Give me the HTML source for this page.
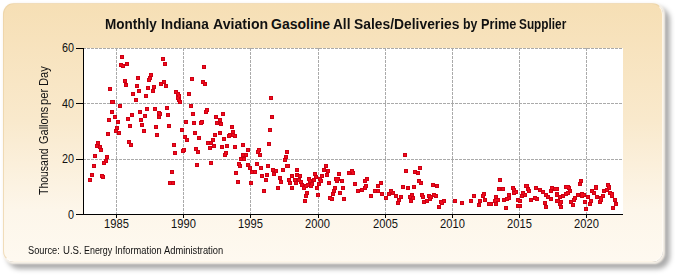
<!DOCTYPE html>
<html><head><meta charset="utf-8">
<style>
html,body{margin:0;padding:0;background:#fff;width:675px;height:275px;overflow:hidden;font-family:"Liberation Sans",sans-serif;}
#shadow{position:absolute;left:7px;top:7px;width:663px;height:262px;border-radius:13px;background:rgba(0,0,0,0.33);filter:blur(2.6px);}
#panel{position:absolute;left:3px;top:3px;width:658px;height:257px;border-radius:11px;border:1.5px solid;border-color:rgba(236,210,165,0.7) rgba(255,253,248,0.75) rgba(255,253,248,0.75) rgba(236,210,165,0.7);
background:linear-gradient(to bottom,#f6dfb5 0%,#f9e9cc 45%,#fdf6ea 80%,#fef9f0 100%);
box-shadow:1px 1px 2px 0.5px rgba(252,246,236,0.95);}
.tx{position:absolute;white-space:nowrap;color:#111;transform-origin:0 0;line-height:1;}
#title{position:absolute;left:0;top:17px;width:675px;height:20px;}
.tw{position:absolute;top:0;font-weight:bold;font-size:14px;line-height:1;color:#111;white-space:nowrap;transform-origin:0 0;}
#ylab{position:absolute;left:0;top:200px;width:150px;height:14px;transform:rotate(-90deg);transform-origin:0 0;}
.yw{position:absolute;top:37.6px;font-size:12px;line-height:1;color:#111;white-space:nowrap;transform-origin:0 0;}
#src{position:absolute;left:0;top:246px;width:675px;height:14px;}
.sw{position:absolute;top:0;font-size:10px;line-height:1;color:#111;white-space:nowrap;transform-origin:0 0;}
svg{position:absolute;left:0;top:0;}
.t{font-size:12px;fill:#111;}
</style></head><body>
<div id="shadow"></div><div id="panel"></div>
<div id="title"><span class="tw" style="left:105.03px;transform:scaleX(0.966)">Monthly</span><span class="tw" style="left:161.43px;transform:scaleX(0.975)">Indiana</span><span class="tw" style="left:213.2px;transform:scaleX(1.0074)">Aviation</span><span class="tw" style="left:271.0px;transform:scaleX(1.0)">Gasoline</span><span class="tw" style="left:333.2px;transform:scaleX(0.9765)">All</span><span class="tw" style="left:353.61px;transform:scaleX(0.9895)">Sales/Deliveries</span><span class="tw" style="left:463.12px;transform:scaleX(0.88)">by</span><span class="tw" style="left:481.09px;transform:scaleX(0.9081)">Prime</span><span class="tw" style="left:519.16px;transform:scaleX(0.8436)">Supplier</span></div>
<div id="ylab"><span class="yw" style="left:5.0px;transform:scaleX(0.8717)">Thousand</span><span class="yw" style="left:55.58px;transform:scaleX(0.9154)">Gallons</span><span class="yw" style="left:95.46px;transform:scaleX(0.9437)">per</span><span class="yw" style="left:114.46px;transform:scaleX(0.935)">Day</span></div>
<div id="src"><span class="sw" style="left:28.48px;transform:scaleX(0.9212)">Source:</span><span class="sw" style="left:62.94px;transform:scaleX(0.9611)">U.S.</span><span class="sw" style="left:83.71px;transform:scaleX(0.8903)">Energy</span><span class="sw" style="left:114.87px;transform:scaleX(0.9306)">Information</span><span class="sw" style="left:164.2px;transform:scaleX(0.9333)">Administration</span></div>
<svg width="675" height="275" viewBox="0 0 675 275">
<rect x="84" y="48" width="539" height="166" fill="#fff"/>
<g stroke="#aaaaaa" stroke-width="1" stroke-dasharray="3,1" fill="none">
<path stroke-dashoffset="1" d="M84 48.5H623M84 103.5H623M84 159.5H623"/>
<path d="M116.5 48V214M183.5 48V214M250.5 48V214M318.5 48V214M385.5 48V214M452.5 48V214M519.5 48V214M586.5 48V214"/>
</g>
<g stroke="#000" stroke-width="1" fill="none">
<path d="M83.5 48V214.5"/>
<path d="M76 214.5H623"/>
<path d="M76 48.5H84M76 103.5H84M76 159.5H84"/>
<path d="M116.5 214V218M183.5 214V218M250.5 214V218M318.5 214V218M385.5 214V218M452.5 214V218M519.5 214V218M586.5 214V218"/>
</g>
<g class="t" text-anchor="end">
<text transform="translate(74,52.3) scale(0.9,1)">60</text>
<text transform="translate(74,108.1) scale(0.9,1)">40</text>
<text transform="translate(74,163.3) scale(0.9,1)">20</text>
<text transform="translate(74,219.3) scale(0.9,1)">0</text>
</g>
<g class="t" text-anchor="middle">
<text transform="translate(116.5,228) scale(0.93,1)">1985</text>
<text transform="translate(183.5,228) scale(0.93,1)">1990</text>
<text transform="translate(250.5,228) scale(0.93,1)">1995</text>
<text transform="translate(317.5,228) scale(0.93,1)">2000</text>
<text transform="translate(385.5,228) scale(0.93,1)">2005</text>
<text transform="translate(452.5,228) scale(0.93,1)">2010</text>
<text transform="translate(519.5,228) scale(0.93,1)">2015</text>
<text transform="translate(586.5,228) scale(0.93,1)">2020</text>
</g>
<g id="pts">
<g fill="#cc0012">
<rect x="120" y="55" width="4" height="4"/>
<rect x="119" y="63" width="4" height="4"/>
<rect x="121" y="64" width="4" height="4"/>
<rect x="125" y="62" width="4" height="4"/>
<rect x="123" y="79" width="4" height="4"/>
<rect x="124" y="83" width="4" height="4"/>
<rect x="108" y="87" width="4" height="4"/>
<rect x="111" y="100" width="4" height="4"/>
<rect x="136" y="76" width="4" height="4"/>
<rect x="135" y="84" width="4" height="4"/>
<rect x="137" y="89" width="4" height="4"/>
<rect x="131" y="92" width="4" height="4"/>
<rect x="134" y="98" width="4" height="4"/>
<rect x="149" y="73" width="4" height="4"/>
<rect x="148" y="76" width="4" height="4"/>
<rect x="147" y="78" width="4" height="4"/>
<rect x="146" y="86" width="4" height="4"/>
<rect x="152" y="85" width="4" height="4"/>
<rect x="151" y="89" width="4" height="4"/>
<rect x="144" y="94" width="4" height="4"/>
<rect x="161" y="57" width="4" height="4"/>
<rect x="163" y="62" width="4" height="4"/>
<rect x="159" y="82" width="4" height="4"/>
<rect x="162" y="80" width="4" height="4"/>
<rect x="164" y="84" width="4" height="4"/>
<rect x="174" y="90" width="4" height="4"/>
<rect x="176" y="92" width="4" height="4"/>
<rect x="177" y="94" width="4" height="4"/>
<rect x="178" y="100" width="4" height="4"/>
<rect x="176" y="96" width="4" height="4"/>
<rect x="177" y="98" width="4" height="4"/>
<rect x="190" y="77" width="4" height="4"/>
<rect x="187" y="92" width="4" height="4"/>
<rect x="202" y="65" width="4" height="4"/>
<rect x="201" y="80" width="4" height="4"/>
<rect x="203" y="82" width="4" height="4"/>
<rect x="269" y="96" width="4" height="4"/>
<rect x="118" y="104" width="4" height="4"/>
<rect x="110" y="110" width="4" height="4"/>
<rect x="113" y="115" width="4" height="4"/>
<rect x="107" y="118" width="4" height="4"/>
<rect x="116" y="120" width="4" height="4"/>
<rect x="115" y="126" width="4" height="4"/>
<rect x="114" y="129" width="4" height="4"/>
<rect x="117" y="131" width="4" height="4"/>
<rect x="106" y="132" width="4" height="4"/>
<rect x="96" y="141" width="4" height="4"/>
<rect x="95" y="144" width="4" height="4"/>
<rect x="98" y="145" width="4" height="4"/>
<rect x="99" y="148" width="4" height="4"/>
<rect x="93" y="154" width="4" height="4"/>
<rect x="105" y="155" width="4" height="4"/>
<rect x="130" y="113" width="4" height="4"/>
<rect x="126" y="117" width="4" height="4"/>
<rect x="128" y="124" width="4" height="4"/>
<rect x="127" y="140" width="4" height="4"/>
<rect x="129" y="143" width="4" height="4"/>
<rect x="138" y="110" width="4" height="4"/>
<rect x="145" y="107" width="4" height="4"/>
<rect x="143" y="114" width="4" height="4"/>
<rect x="139" y="118" width="4" height="4"/>
<rect x="140" y="123" width="4" height="4"/>
<rect x="142" y="129" width="4" height="4"/>
<rect x="153" y="107" width="4" height="4"/>
<rect x="157" y="111" width="4" height="4"/>
<rect x="157" y="115" width="4" height="4"/>
<rect x="158" y="112" width="4" height="4"/>
<rect x="165" y="106" width="4" height="4"/>
<rect x="166" y="113" width="4" height="4"/>
<rect x="154" y="125" width="4" height="4"/>
<rect x="155" y="133" width="4" height="4"/>
<rect x="167" y="124" width="4" height="4"/>
<rect x="172" y="143" width="4" height="4"/>
<rect x="173" y="151" width="4" height="4"/>
<rect x="189" y="104" width="4" height="4"/>
<rect x="191" y="112" width="4" height="4"/>
<rect x="204" y="110" width="4" height="4"/>
<rect x="205" y="108" width="4" height="4"/>
<rect x="184" y="120" width="4" height="4"/>
<rect x="192" y="121" width="4" height="4"/>
<rect x="199" y="121" width="4" height="4"/>
<rect x="200" y="120" width="4" height="4"/>
<rect x="180" y="128" width="4" height="4"/>
<rect x="193" y="131" width="4" height="4"/>
<rect x="183" y="135" width="4" height="4"/>
<rect x="185" y="138" width="4" height="4"/>
<rect x="197" y="136" width="4" height="4"/>
<rect x="182" y="148" width="4" height="4"/>
<rect x="181" y="149" width="4" height="4"/>
<rect x="194" y="147" width="4" height="4"/>
<rect x="196" y="150" width="4" height="4"/>
<rect x="214" y="115" width="4" height="4"/>
<rect x="215" y="121" width="4" height="4"/>
<rect x="213" y="133" width="4" height="4"/>
<rect x="211" y="138" width="4" height="4"/>
<rect x="206" y="141" width="4" height="4"/>
<rect x="209" y="141" width="4" height="4"/>
<rect x="212" y="144" width="4" height="4"/>
<rect x="208" y="146" width="4" height="4"/>
<rect x="110" y="100" width="4" height="4"/>
<rect x="110" y="110" width="4" height="4"/>
<rect x="221" y="112" width="4" height="4"/>
<rect x="218" y="118" width="4" height="4"/>
<rect x="219" y="122" width="4" height="4"/>
<rect x="218" y="131" width="4" height="4"/>
<rect x="230" y="125" width="4" height="4"/>
<rect x="231" y="130" width="4" height="4"/>
<rect x="228" y="133" width="4" height="4"/>
<rect x="231" y="133" width="4" height="4"/>
<rect x="222" y="137" width="4" height="4"/>
<rect x="220" y="145" width="4" height="4"/>
<rect x="225" y="144" width="4" height="4"/>
<rect x="233" y="145" width="4" height="4"/>
<rect x="224" y="151" width="4" height="4"/>
<rect x="223" y="153" width="4" height="4"/>
<rect x="241" y="143" width="4" height="4"/>
<rect x="246" y="148" width="4" height="4"/>
<rect x="241" y="153" width="4" height="4"/>
<rect x="244" y="153" width="4" height="4"/>
<rect x="270" y="115" width="4" height="4"/>
<rect x="268" y="128" width="4" height="4"/>
<rect x="267" y="142" width="4" height="4"/>
<rect x="257" y="148" width="4" height="4"/>
<rect x="256" y="150" width="4" height="4"/>
<rect x="258" y="153" width="4" height="4"/>
<rect x="285" y="150" width="4" height="4"/>
<rect x="284" y="155" width="4" height="4"/>
<rect x="403" y="153" width="4" height="4"/>
<rect x="227" y="134" width="4" height="4"/>
<rect x="233" y="134" width="4" height="4"/>
<rect x="92" y="164" width="4" height="4"/>
<rect x="90" y="173" width="4" height="4"/>
<rect x="88" y="178" width="4" height="4"/>
<rect x="100" y="174" width="4" height="4"/>
<rect x="101" y="175" width="4" height="4"/>
<rect x="102" y="161" width="4" height="4"/>
<rect x="104" y="159" width="4" height="4"/>
<rect x="170" y="170" width="4" height="4"/>
<rect x="168" y="181" width="4" height="4"/>
<rect x="171" y="181" width="4" height="4"/>
<rect x="195" y="163" width="4" height="4"/>
<rect x="209" y="161" width="4" height="4"/>
<rect x="92" y="164" width="4" height="4"/>
<rect x="239" y="157" width="4" height="4"/>
<rect x="242" y="157" width="4" height="4"/>
<rect x="237" y="162" width="4" height="4"/>
<rect x="238" y="164" width="4" height="4"/>
<rect x="234" y="171" width="4" height="4"/>
<rect x="236" y="180" width="4" height="4"/>
<rect x="246" y="163" width="4" height="4"/>
<rect x="248" y="166" width="4" height="4"/>
<rect x="250" y="170" width="4" height="4"/>
<rect x="253" y="170" width="4" height="4"/>
<rect x="249" y="181" width="4" height="4"/>
<rect x="255" y="162" width="4" height="4"/>
<rect x="259" y="166" width="4" height="4"/>
<rect x="266" y="164" width="4" height="4"/>
<rect x="260" y="174" width="4" height="4"/>
<rect x="265" y="173" width="4" height="4"/>
<rect x="264" y="178" width="4" height="4"/>
<rect x="271" y="168" width="4" height="4"/>
<rect x="274" y="169" width="4" height="4"/>
<rect x="272" y="172" width="4" height="4"/>
<rect x="281" y="168" width="4" height="4"/>
<rect x="278" y="176" width="4" height="4"/>
<rect x="279" y="180" width="4" height="4"/>
<rect x="276" y="186" width="4" height="4"/>
<rect x="283" y="158" width="4" height="4"/>
<rect x="285" y="164" width="4" height="4"/>
<rect x="262" y="189" width="4" height="4"/>
<rect x="286" y="164" width="4" height="4"/>
<rect x="295" y="168" width="4" height="4"/>
<rect x="290" y="174" width="4" height="4"/>
<rect x="287" y="178" width="4" height="4"/>
<rect x="288" y="181" width="4" height="4"/>
<rect x="295" y="173" width="4" height="4"/>
<rect x="298" y="174" width="4" height="4"/>
<rect x="293" y="178" width="4" height="4"/>
<rect x="294" y="181" width="4" height="4"/>
<rect x="297" y="178" width="4" height="4"/>
<rect x="299" y="180" width="4" height="4"/>
<rect x="300" y="183" width="4" height="4"/>
<rect x="307" y="177" width="4" height="4"/>
<rect x="308" y="179" width="4" height="4"/>
<rect x="306" y="183" width="4" height="4"/>
<rect x="310" y="182" width="4" height="4"/>
<rect x="313" y="172" width="4" height="4"/>
<rect x="314" y="175" width="4" height="4"/>
<rect x="312" y="178" width="4" height="4"/>
<rect x="318" y="177" width="4" height="4"/>
<rect x="319" y="179" width="4" height="4"/>
<rect x="317" y="182" width="4" height="4"/>
<rect x="320" y="174" width="4" height="4"/>
<rect x="324" y="164" width="4" height="4"/>
<rect x="322" y="168" width="4" height="4"/>
<rect x="326" y="169" width="4" height="4"/>
<rect x="325" y="173" width="4" height="4"/>
<rect x="327" y="181" width="4" height="4"/>
<rect x="337" y="172" width="4" height="4"/>
<rect x="334" y="177" width="4" height="4"/>
<rect x="336" y="177" width="4" height="4"/>
<rect x="340" y="179" width="4" height="4"/>
<rect x="335" y="179" width="4" height="4"/>
<rect x="347" y="171" width="4" height="4"/>
<rect x="350" y="169" width="4" height="4"/>
<rect x="353" y="182" width="4" height="4"/>
<rect x="351" y="171" width="4" height="4"/>
<rect x="290" y="186" width="4" height="4"/>
<rect x="302" y="186" width="4" height="4"/>
<rect x="304" y="184" width="4" height="4"/>
<rect x="309" y="184" width="4" height="4"/>
<rect x="315" y="186" width="4" height="4"/>
<rect x="305" y="191" width="4" height="4"/>
<rect x="304" y="194" width="4" height="4"/>
<rect x="303" y="199" width="4" height="4"/>
<rect x="316" y="193" width="4" height="4"/>
<rect x="333" y="186" width="4" height="4"/>
<rect x="332" y="189" width="4" height="4"/>
<rect x="331" y="192" width="4" height="4"/>
<rect x="328" y="196" width="4" height="4"/>
<rect x="330" y="197" width="4" height="4"/>
<rect x="341" y="186" width="4" height="4"/>
<rect x="338" y="191" width="4" height="4"/>
<rect x="342" y="197" width="4" height="4"/>
<rect x="365" y="177" width="4" height="4"/>
<rect x="363" y="179" width="4" height="4"/>
<rect x="379" y="181" width="4" height="4"/>
<rect x="376" y="184" width="4" height="4"/>
<rect x="404" y="169" width="4" height="4"/>
<rect x="413" y="170" width="4" height="4"/>
<rect x="416" y="171" width="4" height="4"/>
<rect x="418" y="166" width="4" height="4"/>
<rect x="417" y="179" width="4" height="4"/>
<rect x="419" y="181" width="4" height="4"/>
<rect x="356" y="189" width="4" height="4"/>
<rect x="360" y="188" width="4" height="4"/>
<rect x="363" y="186" width="4" height="4"/>
<rect x="364" y="184" width="4" height="4"/>
<rect x="369" y="194" width="4" height="4"/>
<rect x="373" y="189" width="4" height="4"/>
<rect x="376" y="189" width="4" height="4"/>
<rect x="376" y="184" width="4" height="4"/>
<rect x="380" y="192" width="4" height="4"/>
<rect x="384" y="196" width="4" height="4"/>
<rect x="387" y="192" width="4" height="4"/>
<rect x="389" y="189" width="4" height="4"/>
<rect x="391" y="191" width="4" height="4"/>
<rect x="394" y="194" width="4" height="4"/>
<rect x="399" y="195" width="4" height="4"/>
<rect x="397" y="198" width="4" height="4"/>
<rect x="396" y="201" width="4" height="4"/>
<rect x="401" y="185" width="4" height="4"/>
<rect x="406" y="186" width="4" height="4"/>
<rect x="412" y="185" width="4" height="4"/>
<rect x="410" y="193" width="4" height="4"/>
<rect x="408" y="195" width="4" height="4"/>
<rect x="411" y="196" width="4" height="4"/>
<rect x="409" y="199" width="4" height="4"/>
<rect x="420" y="193" width="4" height="4"/>
<rect x="431" y="183" width="4" height="4"/>
<rect x="435" y="184" width="4" height="4"/>
<rect x="421" y="195" width="4" height="4"/>
<rect x="422" y="200" width="4" height="4"/>
<rect x="425" y="199" width="4" height="4"/>
<rect x="427" y="194" width="4" height="4"/>
<rect x="428" y="197" width="4" height="4"/>
<rect x="429" y="195" width="4" height="4"/>
<rect x="432" y="193" width="4" height="4"/>
<rect x="434" y="194" width="4" height="4"/>
<rect x="439" y="200" width="4" height="4"/>
<rect x="442" y="199" width="4" height="4"/>
<rect x="440" y="201" width="4" height="4"/>
<rect x="437" y="205" width="4" height="4"/>
<rect x="453" y="199" width="4" height="4"/>
<rect x="460" y="201" width="4" height="4"/>
<rect x="469" y="199" width="4" height="4"/>
<rect x="472" y="194" width="4" height="4"/>
<rect x="478" y="199" width="4" height="4"/>
<rect x="477" y="203" width="4" height="4"/>
<rect x="481" y="194" width="4" height="4"/>
<rect x="482" y="192" width="4" height="4"/>
<rect x="483" y="198" width="4" height="4"/>
<rect x="487" y="202" width="4" height="4"/>
<rect x="498" y="178" width="4" height="4"/>
<rect x="525" y="184" width="4" height="4"/>
<rect x="497" y="187" width="4" height="4"/>
<rect x="501" y="187" width="4" height="4"/>
<rect x="512" y="191" width="4" height="4"/>
<rect x="494" y="198" width="4" height="4"/>
<rect x="518" y="204" width="4" height="4"/>
<rect x="511" y="186" width="4" height="4"/>
<rect x="512" y="188" width="4" height="4"/>
<rect x="514" y="190" width="4" height="4"/>
<rect x="524" y="184" width="4" height="4"/>
<rect x="526" y="187" width="4" height="4"/>
<rect x="527" y="189" width="4" height="4"/>
<rect x="534" y="186" width="4" height="4"/>
<rect x="538" y="188" width="4" height="4"/>
<rect x="541" y="190" width="4" height="4"/>
<rect x="550" y="186" width="4" height="4"/>
<rect x="553" y="187" width="4" height="4"/>
<rect x="549" y="189" width="4" height="4"/>
<rect x="555" y="192" width="4" height="4"/>
<rect x="494" y="195" width="4" height="4"/>
<rect x="496" y="198" width="4" height="4"/>
<rect x="493" y="199" width="4" height="4"/>
<rect x="489" y="202" width="4" height="4"/>
<rect x="494" y="202" width="4" height="4"/>
<rect x="507" y="193" width="4" height="4"/>
<rect x="507" y="196" width="4" height="4"/>
<rect x="502" y="198" width="4" height="4"/>
<rect x="505" y="197" width="4" height="4"/>
<rect x="504" y="206" width="4" height="4"/>
<rect x="516" y="198" width="4" height="4"/>
<rect x="518" y="199" width="4" height="4"/>
<rect x="516" y="204" width="4" height="4"/>
<rect x="521" y="191" width="4" height="4"/>
<rect x="523" y="193" width="4" height="4"/>
<rect x="520" y="194" width="4" height="4"/>
<rect x="529" y="198" width="4" height="4"/>
<rect x="533" y="196" width="4" height="4"/>
<rect x="535" y="197" width="4" height="4"/>
<rect x="544" y="193" width="4" height="4"/>
<rect x="546" y="195" width="4" height="4"/>
<rect x="549" y="197" width="4" height="4"/>
<rect x="543" y="201" width="4" height="4"/>
<rect x="544" y="205" width="4" height="4"/>
<rect x="555" y="199" width="4" height="4"/>
<rect x="579" y="179" width="4" height="4"/>
<rect x="578" y="182" width="4" height="4"/>
<rect x="564" y="185" width="4" height="4"/>
<rect x="566" y="185" width="4" height="4"/>
<rect x="594" y="185" width="4" height="4"/>
<rect x="606" y="183" width="4" height="4"/>
<rect x="607" y="185" width="4" height="4"/>
<rect x="555" y="187" width="4" height="4"/>
<rect x="555" y="193" width="4" height="4"/>
<rect x="558" y="195" width="4" height="4"/>
<rect x="556" y="199" width="4" height="4"/>
<rect x="559" y="200" width="4" height="4"/>
<rect x="558" y="202" width="4" height="4"/>
<rect x="559" y="205" width="4" height="4"/>
<rect x="561" y="194" width="4" height="4"/>
<rect x="564" y="192" width="4" height="4"/>
<rect x="566" y="191" width="4" height="4"/>
<rect x="568" y="189" width="4" height="4"/>
<rect x="567" y="186" width="4" height="4"/>
<rect x="564" y="185" width="4" height="4"/>
<rect x="569" y="200" width="4" height="4"/>
<rect x="571" y="203" width="4" height="4"/>
<rect x="572" y="198" width="4" height="4"/>
<rect x="573" y="196" width="4" height="4"/>
<rect x="576" y="193" width="4" height="4"/>
<rect x="580" y="192" width="4" height="4"/>
<rect x="582" y="193" width="4" height="4"/>
<rect x="580" y="194" width="4" height="4"/>
<rect x="583" y="200" width="4" height="4"/>
<rect x="584" y="207" width="4" height="4"/>
<rect x="586" y="195" width="4" height="4"/>
<rect x="589" y="199" width="4" height="4"/>
<rect x="588" y="202" width="4" height="4"/>
<rect x="590" y="189" width="4" height="4"/>
<rect x="592" y="191" width="4" height="4"/>
<rect x="594" y="186" width="4" height="4"/>
<rect x="595" y="195" width="4" height="4"/>
<rect x="598" y="200" width="4" height="4"/>
<rect x="599" y="196" width="4" height="4"/>
<rect x="601" y="194" width="4" height="4"/>
<rect x="602" y="189" width="4" height="4"/>
<rect x="605" y="188" width="4" height="4"/>
<rect x="607" y="186" width="4" height="4"/>
<rect x="608" y="191" width="4" height="4"/>
<rect x="610" y="194" width="4" height="4"/>
<rect x="610" y="192" width="4" height="4"/>
<rect x="613" y="198" width="4" height="4"/>
<rect x="614" y="202" width="4" height="4"/>
<rect x="599" y="198" width="4" height="4"/>
<rect x="611" y="206" width="4" height="4"/>
</g><g fill="#f20a1c">
<rect x="121" y="56" width="2" height="2"/>
<rect x="120" y="64" width="2" height="2"/>
<rect x="122" y="65" width="2" height="2"/>
<rect x="126" y="63" width="2" height="2"/>
<rect x="124" y="80" width="2" height="2"/>
<rect x="125" y="84" width="2" height="2"/>
<rect x="109" y="88" width="2" height="2"/>
<rect x="112" y="101" width="2" height="2"/>
<rect x="137" y="77" width="2" height="2"/>
<rect x="136" y="85" width="2" height="2"/>
<rect x="138" y="90" width="2" height="2"/>
<rect x="132" y="93" width="2" height="2"/>
<rect x="135" y="99" width="2" height="2"/>
<rect x="150" y="74" width="2" height="2"/>
<rect x="149" y="77" width="2" height="2"/>
<rect x="148" y="79" width="2" height="2"/>
<rect x="147" y="87" width="2" height="2"/>
<rect x="153" y="86" width="2" height="2"/>
<rect x="152" y="90" width="2" height="2"/>
<rect x="145" y="95" width="2" height="2"/>
<rect x="162" y="58" width="2" height="2"/>
<rect x="164" y="63" width="2" height="2"/>
<rect x="160" y="83" width="2" height="2"/>
<rect x="163" y="81" width="2" height="2"/>
<rect x="165" y="85" width="2" height="2"/>
<rect x="175" y="91" width="2" height="2"/>
<rect x="177" y="93" width="2" height="2"/>
<rect x="178" y="95" width="2" height="2"/>
<rect x="179" y="101" width="2" height="2"/>
<rect x="177" y="97" width="2" height="2"/>
<rect x="178" y="99" width="2" height="2"/>
<rect x="191" y="78" width="2" height="2"/>
<rect x="188" y="93" width="2" height="2"/>
<rect x="203" y="66" width="2" height="2"/>
<rect x="202" y="81" width="2" height="2"/>
<rect x="204" y="83" width="2" height="2"/>
<rect x="270" y="97" width="2" height="2"/>
<rect x="119" y="105" width="2" height="2"/>
<rect x="111" y="111" width="2" height="2"/>
<rect x="114" y="116" width="2" height="2"/>
<rect x="108" y="119" width="2" height="2"/>
<rect x="117" y="121" width="2" height="2"/>
<rect x="116" y="127" width="2" height="2"/>
<rect x="115" y="130" width="2" height="2"/>
<rect x="118" y="132" width="2" height="2"/>
<rect x="107" y="133" width="2" height="2"/>
<rect x="97" y="142" width="2" height="2"/>
<rect x="96" y="145" width="2" height="2"/>
<rect x="99" y="146" width="2" height="2"/>
<rect x="100" y="149" width="2" height="2"/>
<rect x="94" y="155" width="2" height="2"/>
<rect x="106" y="156" width="2" height="2"/>
<rect x="131" y="114" width="2" height="2"/>
<rect x="127" y="118" width="2" height="2"/>
<rect x="129" y="125" width="2" height="2"/>
<rect x="128" y="141" width="2" height="2"/>
<rect x="130" y="144" width="2" height="2"/>
<rect x="139" y="111" width="2" height="2"/>
<rect x="146" y="108" width="2" height="2"/>
<rect x="144" y="115" width="2" height="2"/>
<rect x="140" y="119" width="2" height="2"/>
<rect x="141" y="124" width="2" height="2"/>
<rect x="143" y="130" width="2" height="2"/>
<rect x="154" y="108" width="2" height="2"/>
<rect x="158" y="112" width="2" height="2"/>
<rect x="158" y="116" width="2" height="2"/>
<rect x="159" y="113" width="2" height="2"/>
<rect x="166" y="107" width="2" height="2"/>
<rect x="167" y="114" width="2" height="2"/>
<rect x="155" y="126" width="2" height="2"/>
<rect x="156" y="134" width="2" height="2"/>
<rect x="168" y="125" width="2" height="2"/>
<rect x="173" y="144" width="2" height="2"/>
<rect x="174" y="152" width="2" height="2"/>
<rect x="190" y="105" width="2" height="2"/>
<rect x="192" y="113" width="2" height="2"/>
<rect x="205" y="111" width="2" height="2"/>
<rect x="206" y="109" width="2" height="2"/>
<rect x="185" y="121" width="2" height="2"/>
<rect x="193" y="122" width="2" height="2"/>
<rect x="200" y="122" width="2" height="2"/>
<rect x="201" y="121" width="2" height="2"/>
<rect x="181" y="129" width="2" height="2"/>
<rect x="194" y="132" width="2" height="2"/>
<rect x="184" y="136" width="2" height="2"/>
<rect x="186" y="139" width="2" height="2"/>
<rect x="198" y="137" width="2" height="2"/>
<rect x="183" y="149" width="2" height="2"/>
<rect x="182" y="150" width="2" height="2"/>
<rect x="195" y="148" width="2" height="2"/>
<rect x="197" y="151" width="2" height="2"/>
<rect x="215" y="116" width="2" height="2"/>
<rect x="216" y="122" width="2" height="2"/>
<rect x="214" y="134" width="2" height="2"/>
<rect x="212" y="139" width="2" height="2"/>
<rect x="207" y="142" width="2" height="2"/>
<rect x="210" y="142" width="2" height="2"/>
<rect x="213" y="145" width="2" height="2"/>
<rect x="209" y="147" width="2" height="2"/>
<rect x="111" y="101" width="2" height="2"/>
<rect x="111" y="111" width="2" height="2"/>
<rect x="222" y="113" width="2" height="2"/>
<rect x="219" y="119" width="2" height="2"/>
<rect x="220" y="123" width="2" height="2"/>
<rect x="219" y="132" width="2" height="2"/>
<rect x="231" y="126" width="2" height="2"/>
<rect x="232" y="131" width="2" height="2"/>
<rect x="229" y="134" width="2" height="2"/>
<rect x="232" y="134" width="2" height="2"/>
<rect x="223" y="138" width="2" height="2"/>
<rect x="221" y="146" width="2" height="2"/>
<rect x="226" y="145" width="2" height="2"/>
<rect x="234" y="146" width="2" height="2"/>
<rect x="225" y="152" width="2" height="2"/>
<rect x="224" y="154" width="2" height="2"/>
<rect x="242" y="144" width="2" height="2"/>
<rect x="247" y="149" width="2" height="2"/>
<rect x="242" y="154" width="2" height="2"/>
<rect x="245" y="154" width="2" height="2"/>
<rect x="271" y="116" width="2" height="2"/>
<rect x="269" y="129" width="2" height="2"/>
<rect x="268" y="143" width="2" height="2"/>
<rect x="258" y="149" width="2" height="2"/>
<rect x="257" y="151" width="2" height="2"/>
<rect x="259" y="154" width="2" height="2"/>
<rect x="286" y="151" width="2" height="2"/>
<rect x="285" y="156" width="2" height="2"/>
<rect x="404" y="154" width="2" height="2"/>
<rect x="228" y="135" width="2" height="2"/>
<rect x="234" y="135" width="2" height="2"/>
<rect x="93" y="165" width="2" height="2"/>
<rect x="91" y="174" width="2" height="2"/>
<rect x="89" y="179" width="2" height="2"/>
<rect x="101" y="175" width="2" height="2"/>
<rect x="102" y="176" width="2" height="2"/>
<rect x="103" y="162" width="2" height="2"/>
<rect x="105" y="160" width="2" height="2"/>
<rect x="171" y="171" width="2" height="2"/>
<rect x="169" y="182" width="2" height="2"/>
<rect x="172" y="182" width="2" height="2"/>
<rect x="196" y="164" width="2" height="2"/>
<rect x="210" y="162" width="2" height="2"/>
<rect x="93" y="165" width="2" height="2"/>
<rect x="240" y="158" width="2" height="2"/>
<rect x="243" y="158" width="2" height="2"/>
<rect x="238" y="163" width="2" height="2"/>
<rect x="239" y="165" width="2" height="2"/>
<rect x="235" y="172" width="2" height="2"/>
<rect x="237" y="181" width="2" height="2"/>
<rect x="247" y="164" width="2" height="2"/>
<rect x="249" y="167" width="2" height="2"/>
<rect x="251" y="171" width="2" height="2"/>
<rect x="254" y="171" width="2" height="2"/>
<rect x="250" y="182" width="2" height="2"/>
<rect x="256" y="163" width="2" height="2"/>
<rect x="260" y="167" width="2" height="2"/>
<rect x="267" y="165" width="2" height="2"/>
<rect x="261" y="175" width="2" height="2"/>
<rect x="266" y="174" width="2" height="2"/>
<rect x="265" y="179" width="2" height="2"/>
<rect x="272" y="169" width="2" height="2"/>
<rect x="275" y="170" width="2" height="2"/>
<rect x="273" y="173" width="2" height="2"/>
<rect x="282" y="169" width="2" height="2"/>
<rect x="279" y="177" width="2" height="2"/>
<rect x="280" y="181" width="2" height="2"/>
<rect x="277" y="187" width="2" height="2"/>
<rect x="284" y="159" width="2" height="2"/>
<rect x="286" y="165" width="2" height="2"/>
<rect x="263" y="190" width="2" height="2"/>
<rect x="287" y="165" width="2" height="2"/>
<rect x="296" y="169" width="2" height="2"/>
<rect x="291" y="175" width="2" height="2"/>
<rect x="288" y="179" width="2" height="2"/>
<rect x="289" y="182" width="2" height="2"/>
<rect x="296" y="174" width="2" height="2"/>
<rect x="299" y="175" width="2" height="2"/>
<rect x="294" y="179" width="2" height="2"/>
<rect x="295" y="182" width="2" height="2"/>
<rect x="298" y="179" width="2" height="2"/>
<rect x="300" y="181" width="2" height="2"/>
<rect x="301" y="184" width="2" height="2"/>
<rect x="308" y="178" width="2" height="2"/>
<rect x="309" y="180" width="2" height="2"/>
<rect x="307" y="184" width="2" height="2"/>
<rect x="311" y="183" width="2" height="2"/>
<rect x="314" y="173" width="2" height="2"/>
<rect x="315" y="176" width="2" height="2"/>
<rect x="313" y="179" width="2" height="2"/>
<rect x="319" y="178" width="2" height="2"/>
<rect x="320" y="180" width="2" height="2"/>
<rect x="318" y="183" width="2" height="2"/>
<rect x="321" y="175" width="2" height="2"/>
<rect x="325" y="165" width="2" height="2"/>
<rect x="323" y="169" width="2" height="2"/>
<rect x="327" y="170" width="2" height="2"/>
<rect x="326" y="174" width="2" height="2"/>
<rect x="328" y="182" width="2" height="2"/>
<rect x="338" y="173" width="2" height="2"/>
<rect x="335" y="178" width="2" height="2"/>
<rect x="337" y="178" width="2" height="2"/>
<rect x="341" y="180" width="2" height="2"/>
<rect x="336" y="180" width="2" height="2"/>
<rect x="348" y="172" width="2" height="2"/>
<rect x="351" y="170" width="2" height="2"/>
<rect x="354" y="183" width="2" height="2"/>
<rect x="352" y="172" width="2" height="2"/>
<rect x="291" y="187" width="2" height="2"/>
<rect x="303" y="187" width="2" height="2"/>
<rect x="305" y="185" width="2" height="2"/>
<rect x="310" y="185" width="2" height="2"/>
<rect x="316" y="187" width="2" height="2"/>
<rect x="306" y="192" width="2" height="2"/>
<rect x="305" y="195" width="2" height="2"/>
<rect x="304" y="200" width="2" height="2"/>
<rect x="317" y="194" width="2" height="2"/>
<rect x="334" y="187" width="2" height="2"/>
<rect x="333" y="190" width="2" height="2"/>
<rect x="332" y="193" width="2" height="2"/>
<rect x="329" y="197" width="2" height="2"/>
<rect x="331" y="198" width="2" height="2"/>
<rect x="342" y="187" width="2" height="2"/>
<rect x="339" y="192" width="2" height="2"/>
<rect x="343" y="198" width="2" height="2"/>
<rect x="366" y="178" width="2" height="2"/>
<rect x="364" y="180" width="2" height="2"/>
<rect x="380" y="182" width="2" height="2"/>
<rect x="377" y="185" width="2" height="2"/>
<rect x="405" y="170" width="2" height="2"/>
<rect x="414" y="171" width="2" height="2"/>
<rect x="417" y="172" width="2" height="2"/>
<rect x="419" y="167" width="2" height="2"/>
<rect x="418" y="180" width="2" height="2"/>
<rect x="420" y="182" width="2" height="2"/>
<rect x="357" y="190" width="2" height="2"/>
<rect x="361" y="189" width="2" height="2"/>
<rect x="364" y="187" width="2" height="2"/>
<rect x="365" y="185" width="2" height="2"/>
<rect x="370" y="195" width="2" height="2"/>
<rect x="374" y="190" width="2" height="2"/>
<rect x="377" y="190" width="2" height="2"/>
<rect x="377" y="185" width="2" height="2"/>
<rect x="381" y="193" width="2" height="2"/>
<rect x="385" y="197" width="2" height="2"/>
<rect x="388" y="193" width="2" height="2"/>
<rect x="390" y="190" width="2" height="2"/>
<rect x="392" y="192" width="2" height="2"/>
<rect x="395" y="195" width="2" height="2"/>
<rect x="400" y="196" width="2" height="2"/>
<rect x="398" y="199" width="2" height="2"/>
<rect x="397" y="202" width="2" height="2"/>
<rect x="402" y="186" width="2" height="2"/>
<rect x="407" y="187" width="2" height="2"/>
<rect x="413" y="186" width="2" height="2"/>
<rect x="411" y="194" width="2" height="2"/>
<rect x="409" y="196" width="2" height="2"/>
<rect x="412" y="197" width="2" height="2"/>
<rect x="410" y="200" width="2" height="2"/>
<rect x="421" y="194" width="2" height="2"/>
<rect x="432" y="184" width="2" height="2"/>
<rect x="436" y="185" width="2" height="2"/>
<rect x="422" y="196" width="2" height="2"/>
<rect x="423" y="201" width="2" height="2"/>
<rect x="426" y="200" width="2" height="2"/>
<rect x="428" y="195" width="2" height="2"/>
<rect x="429" y="198" width="2" height="2"/>
<rect x="430" y="196" width="2" height="2"/>
<rect x="433" y="194" width="2" height="2"/>
<rect x="435" y="195" width="2" height="2"/>
<rect x="440" y="201" width="2" height="2"/>
<rect x="443" y="200" width="2" height="2"/>
<rect x="441" y="202" width="2" height="2"/>
<rect x="438" y="206" width="2" height="2"/>
<rect x="454" y="200" width="2" height="2"/>
<rect x="461" y="202" width="2" height="2"/>
<rect x="470" y="200" width="2" height="2"/>
<rect x="473" y="195" width="2" height="2"/>
<rect x="479" y="200" width="2" height="2"/>
<rect x="478" y="204" width="2" height="2"/>
<rect x="482" y="195" width="2" height="2"/>
<rect x="483" y="193" width="2" height="2"/>
<rect x="484" y="199" width="2" height="2"/>
<rect x="488" y="203" width="2" height="2"/>
<rect x="499" y="179" width="2" height="2"/>
<rect x="526" y="185" width="2" height="2"/>
<rect x="498" y="188" width="2" height="2"/>
<rect x="502" y="188" width="2" height="2"/>
<rect x="513" y="192" width="2" height="2"/>
<rect x="495" y="199" width="2" height="2"/>
<rect x="519" y="205" width="2" height="2"/>
<rect x="512" y="187" width="2" height="2"/>
<rect x="513" y="189" width="2" height="2"/>
<rect x="515" y="191" width="2" height="2"/>
<rect x="525" y="185" width="2" height="2"/>
<rect x="527" y="188" width="2" height="2"/>
<rect x="528" y="190" width="2" height="2"/>
<rect x="535" y="187" width="2" height="2"/>
<rect x="539" y="189" width="2" height="2"/>
<rect x="542" y="191" width="2" height="2"/>
<rect x="551" y="187" width="2" height="2"/>
<rect x="554" y="188" width="2" height="2"/>
<rect x="550" y="190" width="2" height="2"/>
<rect x="556" y="193" width="2" height="2"/>
<rect x="495" y="196" width="2" height="2"/>
<rect x="497" y="199" width="2" height="2"/>
<rect x="494" y="200" width="2" height="2"/>
<rect x="490" y="203" width="2" height="2"/>
<rect x="495" y="203" width="2" height="2"/>
<rect x="508" y="194" width="2" height="2"/>
<rect x="508" y="197" width="2" height="2"/>
<rect x="503" y="199" width="2" height="2"/>
<rect x="506" y="198" width="2" height="2"/>
<rect x="505" y="207" width="2" height="2"/>
<rect x="517" y="199" width="2" height="2"/>
<rect x="519" y="200" width="2" height="2"/>
<rect x="517" y="205" width="2" height="2"/>
<rect x="522" y="192" width="2" height="2"/>
<rect x="524" y="194" width="2" height="2"/>
<rect x="521" y="195" width="2" height="2"/>
<rect x="530" y="199" width="2" height="2"/>
<rect x="534" y="197" width="2" height="2"/>
<rect x="536" y="198" width="2" height="2"/>
<rect x="545" y="194" width="2" height="2"/>
<rect x="547" y="196" width="2" height="2"/>
<rect x="550" y="198" width="2" height="2"/>
<rect x="544" y="202" width="2" height="2"/>
<rect x="545" y="206" width="2" height="2"/>
<rect x="556" y="200" width="2" height="2"/>
<rect x="580" y="180" width="2" height="2"/>
<rect x="579" y="183" width="2" height="2"/>
<rect x="565" y="186" width="2" height="2"/>
<rect x="567" y="186" width="2" height="2"/>
<rect x="595" y="186" width="2" height="2"/>
<rect x="607" y="184" width="2" height="2"/>
<rect x="608" y="186" width="2" height="2"/>
<rect x="556" y="188" width="2" height="2"/>
<rect x="556" y="194" width="2" height="2"/>
<rect x="559" y="196" width="2" height="2"/>
<rect x="557" y="200" width="2" height="2"/>
<rect x="560" y="201" width="2" height="2"/>
<rect x="559" y="203" width="2" height="2"/>
<rect x="560" y="206" width="2" height="2"/>
<rect x="562" y="195" width="2" height="2"/>
<rect x="565" y="193" width="2" height="2"/>
<rect x="567" y="192" width="2" height="2"/>
<rect x="569" y="190" width="2" height="2"/>
<rect x="568" y="187" width="2" height="2"/>
<rect x="565" y="186" width="2" height="2"/>
<rect x="570" y="201" width="2" height="2"/>
<rect x="572" y="204" width="2" height="2"/>
<rect x="573" y="199" width="2" height="2"/>
<rect x="574" y="197" width="2" height="2"/>
<rect x="577" y="194" width="2" height="2"/>
<rect x="581" y="193" width="2" height="2"/>
<rect x="583" y="194" width="2" height="2"/>
<rect x="581" y="195" width="2" height="2"/>
<rect x="584" y="201" width="2" height="2"/>
<rect x="585" y="208" width="2" height="2"/>
<rect x="587" y="196" width="2" height="2"/>
<rect x="590" y="200" width="2" height="2"/>
<rect x="589" y="203" width="2" height="2"/>
<rect x="591" y="190" width="2" height="2"/>
<rect x="593" y="192" width="2" height="2"/>
<rect x="595" y="187" width="2" height="2"/>
<rect x="596" y="196" width="2" height="2"/>
<rect x="599" y="201" width="2" height="2"/>
<rect x="600" y="197" width="2" height="2"/>
<rect x="602" y="195" width="2" height="2"/>
<rect x="603" y="190" width="2" height="2"/>
<rect x="606" y="189" width="2" height="2"/>
<rect x="608" y="187" width="2" height="2"/>
<rect x="609" y="192" width="2" height="2"/>
<rect x="611" y="195" width="2" height="2"/>
<rect x="611" y="193" width="2" height="2"/>
<rect x="614" y="199" width="2" height="2"/>
<rect x="615" y="203" width="2" height="2"/>
<rect x="600" y="199" width="2" height="2"/>
<rect x="612" y="207" width="2" height="2"/>
</g></g>
</svg>
</body></html>
